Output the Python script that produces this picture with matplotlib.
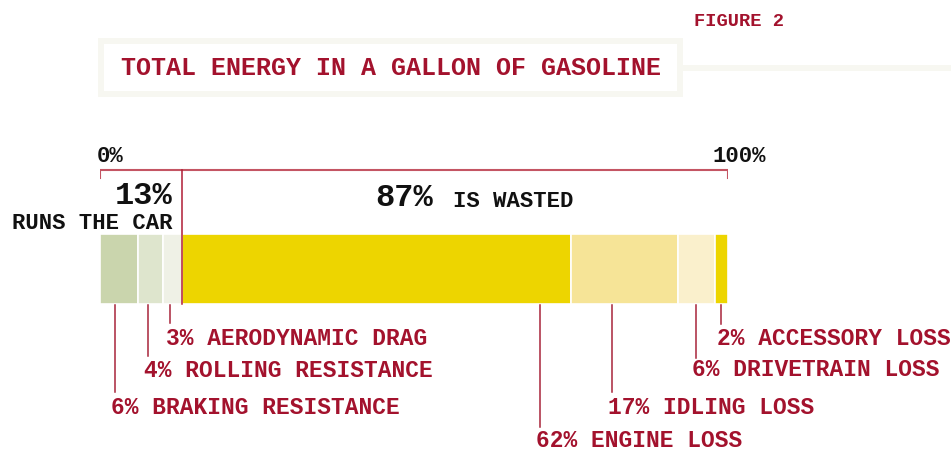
import numpy as np
import matplotlib.pyplot as plt
from matplotlib.patches import Rectangle

# data
categories = ["BRAKING RESISTANCE", "ROLLING RESISTANCE", "AERODYNAMIC DRAG",
              "ENGINE LOSS", "IDLING LOSS", "DRIVETRAIN LOSS", "ACCESSORY LOSS"]
shares = [6, 4, 3, 62, 17, 6, 2]
used_share = 13
wasted_share = 87
title = "TOTAL ENERGY IN A GALLON OF GASOLINE"
figure_label = "FIGURE 2"

# styling / layout
seg_colors = ['#cad5ad', '#dee5cd', '#eff1e6', '#edd500', '#f6e497', '#faf0cc', '#edd500']
leader_x = [2.4, 7.6, 11.1, 70.1, 81.5, 94.9, 98.9]      # percent along the bar
leader_end = [393, 357, 324, 428, 393, 359, 325]         # pixel rows
label_base = [414, 377, 345, 447, 414, 376, 345]
RED = '#a3122d'
BRACKET = '#c45563'
FONT = 'Liberation Mono'

W, H = 951, 452
fig = plt.figure(figsize=(W / 100, H / 100), dpi=100)

# pixel overlay for the title block
frame = fig.add_axes([0, 0, 1, 1])
frame.set_xlim(0, W)
frame.set_ylim(H, 0)
frame.axis('off')
frame.add_patch(Rectangle((101, 42), 579, 53, facecolor='white', edgecolor='#f7f7f1', lw=4.3))
frame.plot([683, W], [69, 69], color='#f7f7f1', lw=4.3, solid_capstyle='butt')
frame.text(121, 75, title, color=RED, fontsize=18, family=FONT, fontweight='bold', va='baseline')
frame.text(694, 26, figure_label, color=RED, fontsize=13.5, family=FONT, fontweight='bold', va='baseline')

# bar axes: x in percent, y in pixel rows
ax = fig.add_axes([100 / W, 0, 628 / W, 1])
ax.set_xlim(0, 100)
ax.set_ylim(H, 0)
ax.axis('off')

lefts = np.concatenate([[0], np.cumsum(shares)[:-1]])
ax.barh(270, shares, left=lefts, height=70, color=seg_colors, edgecolor='white', linewidth=1.2)

# bracket over the whole bar
ax.plot([0, 0, 100, 100], [179, 171, 171, 179], color=BRACKET, lw=1.5, solid_joinstyle='miter')
ax.plot([used_share, used_share], [171, 305], color='#b01c35', lw=1.1)

ax.text(-0.5, 162, "0%", fontsize=16, family=FONT, fontweight='bold', color='#111', va='baseline')
ax.text(97.5, 162, "100%", fontsize=16, family=FONT, fontweight='bold', color='#111', va='baseline')
ax.text(11.5, 204, f"{used_share}%", fontsize=23, family=FONT, fontweight='bold', color='#111',
        ha='right', va='baseline')
ax.text(11.5, 229, "RUNS THE CAR", fontsize=16, family=FONT, fontweight='bold', color='#111',
        ha='right', va='baseline', clip_on=False)
ax.text(43.8, 206, f"{wasted_share}%", fontsize=23, family=FONT, fontweight='bold', color='#111',
        va='baseline')
ax.text(56.2, 207, "IS WASTED", fontsize=16, family=FONT, fontweight='bold', color='#111',
        va='baseline')

# leaders + labels
for name, v, lx, ye, yb in zip(categories, shares, leader_x, leader_end, label_base):
    ax.plot([lx, lx], [306, ye], color='#a8243a', lw=1.1)
    ax.text(lx - 0.6, yb, f"{v}% {name}", fontsize=16.5, family=FONT, fontweight='bold',
            color=RED, va='baseline', clip_on=False)

fig.savefig('out.png', dpi=100)
